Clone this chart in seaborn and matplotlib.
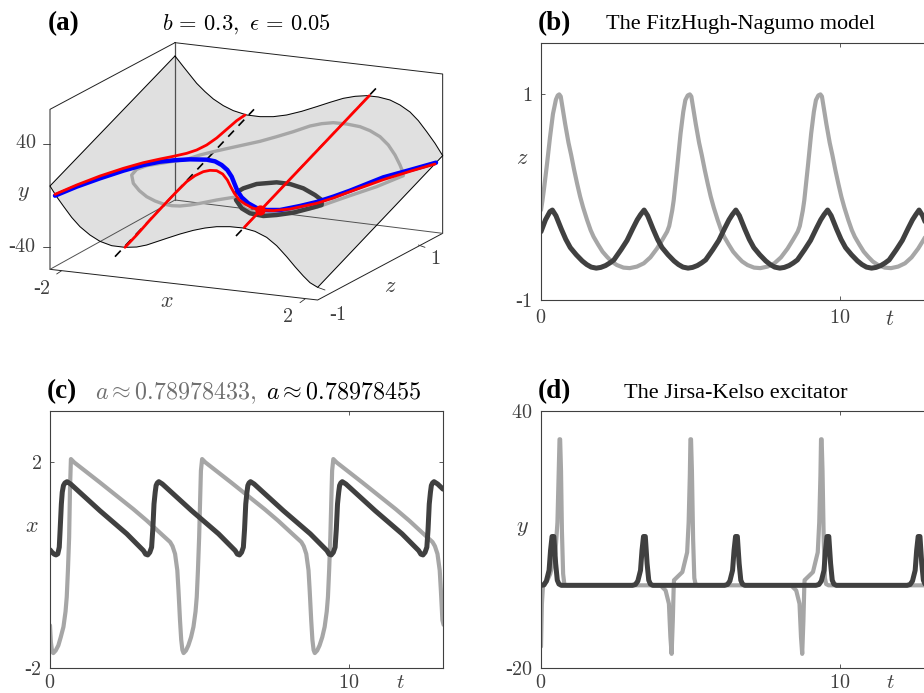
import matplotlib
matplotlib.use("Agg")
import matplotlib.pyplot as plt
import seaborn as sns

LIGHT = "#a6a6a6"
DARK = "#404040"
TICK = "#404040"

# panel (b), FitzHugh-Nagumo z(t)
b_light_t = [0, .05, .1, .2, .3, .4, .5, .56, .61,
             .66, .71, .81, .92, 1.01, 1.11, 1.21, 1.31, 1.41, 1.54, 1.66, 1.76, 1.91, 2.06, 2.21, 2.36, 2.54, 2.76, 2.97, 3.21, 3.44, 3.66, 3.88, 4.06, 4.22, 4.29, 4.33, 4.39, 4.44, 4.56, 4.67, 4.76, 4.83, 4.91, 4.98,
             5.03, 5.08, 5.18, 5.29, 5.38, 5.48, 5.58, 5.68, 5.78, 5.91, 6.03, 6.13, 6.28, 6.43, 6.58, 6.73, 6.91, 7.13, 7.34, 7.58, 7.81, 8.03, 8.25, 8.43, 8.59, 8.66, 8.70, 8.76, 8.81, 8.93, 9.04, 9.13, 9.20, 9.28, 9.35,
             9.40, 9.45, 9.55, 9.66, 9.75, 9.85, 9.95, 10.05, 10.15, 10.28, 10.40, 10.50, 10.65, 10.80, 10.95, 11.10, 11.28, 11.50, 11.71, 11.95, 12.18, 12.40, 12.62, 12.80, 12.96, 13.03, 13.07, 13.13, 13.18]
b_light_z = [-.125, -.03, .08, .32, .58, .81, .95, .99, 1.0,
             .98, .89, .71, .53, .41, .264, .13, .005, -.10, -.22, -.32, -.385, -.46, -.53, -.58, -.625, -.66, -.685, -.69, -.675, -.643, -.585, -.5, -.415, -.335, -.28, -.22, -.13, -.03, .3, .62, .83, .945, .99, 1.0,
             .98, .89, .71, .53, .41, .264, .13, .005, -.10, -.22, -.32, -.385, -.46, -.53, -.58, -.625, -.66, -.685, -.69, -.675, -.643, -.585, -.5, -.415, -.335, -.28, -.22, -.13, -.03, .3, .62, .83, .945, .99, 1.0,
             .98, .89, .71, .53, .41, .264, .13, .005, -.10, -.22, -.32, -.385, -.46, -.53, -.58, -.625, -.66, -.685, -.69, -.675, -.643, -.585, -.5, -.415, -.335, -.28, -.22, -.13, -.03]
b_dark_t = [0, .15, .3, .38,
            .50, .68, .83, .98, 1.18, 1.38, 1.53, 1.68, 1.85, 2.00, 2.16, 2.30, 2.44, 2.68, 2.88, 3.08, 3.22, 3.33, 3.45,
            3.57, 3.75, 3.90, 4.05, 4.25, 4.45, 4.60, 4.75, 4.92, 5.07, 5.23, 5.37, 5.51, 5.75, 5.95, 6.15, 6.29, 6.40, 6.52,
            6.64, 6.82, 6.97, 7.12, 7.32, 7.52, 7.67, 7.82, 7.99, 8.14, 8.30, 8.44, 8.58, 8.82, 9.02, 9.22, 9.36, 9.47, 9.59,
            9.71, 9.89, 10.04, 10.19, 10.39, 10.59, 10.74, 10.89, 11.06, 11.21, 11.37, 11.51, 11.65, 11.89, 12.09, 12.29, 12.43, 12.54, 12.65,
            12.77, 12.95, 13.10, 13.25]
b_dark_z = [-.335, -.22, -.14, -.125,
            -.18, -.31, -.41, -.49, -.56, -.62, -.655, -.68, -.69, -.683, -.665, -.64, -.61, -.51, -.42, -.30, -.22, -.17, -.125,
            -.18, -.31, -.41, -.49, -.56, -.62, -.655, -.68, -.69, -.683, -.665, -.64, -.61, -.51, -.42, -.30, -.22, -.17, -.125,
            -.18, -.31, -.41, -.49, -.56, -.62, -.655, -.68, -.69, -.683, -.665, -.64, -.61, -.51, -.42, -.30, -.22, -.17, -.125,
            -.18, -.31, -.41, -.49, -.56, -.62, -.655, -.68, -.69, -.683, -.665, -.64, -.61, -.51, -.42, -.30, -.22, -.17, -.125,
            -.18, -.31, -.41, -.49]

# panel (c), x(t)
c_light_t = [0, .03, .07, .11, .19, .28, .36, .45, .52, .56, .60, .64, .67, .70,
             .81, 1.67, 2.79, 3.24, 3.70, 4.02, 4.10, 4.185, 4.22, 4.26, 4.30, 4.35, 4.39, 4.43, 4.47, 4.55, 4.63, 4.72, 4.80, 4.87, 4.91, 4.95, 4.99, 5.02, 5.05, 5.09,
             5.20, 6.06, 7.18, 7.63, 8.09, 8.41, 8.49, 8.575, 8.61, 8.65, 8.69, 8.74, 8.78, 8.82, 8.86, 8.94, 9.02, 9.11, 9.19, 9.26, 9.30, 9.34, 9.38, 9.41, 9.44, 9.48,
             9.59, 10.45, 11.57, 12.02, 12.48, 12.80, 12.88, 12.965, 13.0, 13.04, 13.08, 13.13, 13.17]
c_light_x = [-1.17, -1.5, -1.68, -1.71, -1.66, -1.56, -1.4, -1.2, -.9, -.62, -.1, .54, 1.5, 2.065,
             2.0, 1.61, 1.09, .867, .62, .45, .37, .22, .07, -.1, -.5, -1.07, -1.45, -1.65, -1.71, -1.66, -1.56, -1.4, -1.2, -.9, -.62, -.1, .54, 1.2, 1.84, 2.065,
             2.0, 1.61, 1.09, .867, .62, .45, .37, .22, .07, -.1, -.5, -1.07, -1.45, -1.65, -1.71, -1.66, -1.56, -1.4, -1.2, -.9, -.62, -.1, .54, 1.2, 1.84, 2.065,
             2.0, 1.61, 1.09, .867, .62, .45, .37, .22, .07, -.1, -.5, -1.07, -1.16]
c_dark_t = [0, .07, .14, .2, .26, .31, .34, .38, .41, .45, .5, .57,
            .69, 1.67, 2.57, 3.125, 3.20, 3.27, 3.34, 3.40, 3.44, 3.48, 3.52, 3.55, 3.59, 3.64,
            3.76, 4.74, 5.64, 6.195, 6.27, 6.34, 6.41, 6.47, 6.51, 6.55, 6.59, 6.62, 6.66, 6.71,
            6.83, 7.81, 8.71, 9.265, 9.34, 9.41, 9.48, 9.54, 9.58, 9.62, 9.66, 9.69, 9.73, 9.78,
            9.90, 10.88, 11.78, 12.335, 12.41, 12.48, 12.55, 12.61, 12.65, 12.69, 12.73, 12.76, 12.80, 12.85,
            12.97, 13.15]
c_dark_x = [.3, .25, .215, .2, .22, .35, .7, 1.19, 1.42, 1.55, 1.6, 1.625,
            1.58, 1.06, .61, .285, .215, .2, .25, .35, .7, 1.19, 1.42, 1.55, 1.6, 1.625,
            1.58, 1.06, .61, .285, .215, .2, .25, .35, .7, 1.19, 1.42, 1.55, 1.6, 1.625,
            1.58, 1.06, .61, .285, .215, .2, .25, .35, .7, 1.19, 1.42, 1.55, 1.6, 1.625,
            1.58, 1.06, .61, .285, .215, .2, .25, .35, .7, 1.19, 1.42, 1.55, 1.6, 1.625,
            1.58, 1.48]

# panel (d), Jirsa-Kelso y(t)
d_light_t = [0, .03, .07, .2, .31, .48, .55, .59, .62, .64, .67, .7, .74, .78, .85,
             4.0, 4.17, 4.28, 4.33, 4.37, 4.41, 4.44, 4.45, 4.73, 4.89, 4.94, 4.98, 5.0, 5.02, 5.05, 5.09, 5.13, 5.17, 5.25,
             8.37, 8.54, 8.65, 8.70, 8.74, 8.78, 8.81, 8.82, 9.10, 9.26, 9.31, 9.35, 9.37, 9.39, 9.42, 9.46, 9.50, 9.54, 9.62, 13.19]
d_light_y = [-15, -5, -.5, .3, 2, 6.7, 14, 25, 33.4, 33.4, 26, 12, 2, -.4, -.7,
             -.7, -1.9, -5, -12.8, -16.7, -9, -1, .5, 2.4, 7, 14, 25, 33.4, 33.4, 26, 10, 1, -.4, -.7,
             -.7, -1.9, -5, -12.8, -16.7, -9, -1, .5, 2.4, 7, 14, 25, 33.4, 33.4, 26, 10, 1, -.4, -.7, -.7]
d_dark_t = [0, .1, .18, .27, .32, .37, .43, .49, .545, .6, .68,
            3.06, 3.16, 3.24, 3.33, 3.38, 3.43, 3.49, 3.55, 3.605, 3.66, 3.74,
            6.14, 6.24, 6.32, 6.41, 6.46, 6.51, 6.57, 6.63, 6.685, 6.74, 6.82,
            9.20, 9.30, 9.38, 9.47, 9.52, 9.57, 9.63, 9.69, 9.745, 9.80, 9.88,
            12.25, 12.35, 12.43, 12.52, 12.57, 12.62, 12.68, 12.74, 12.795, 12.85, 12.93, 13.19]
d_dark_y = [-.7, -.6, .3, 2.8, 7.5, 10.7, 10.7, 4.4, .5, -.4, -.7,
            -.7, -.5, .3, 2.8, 7.5, 10.7, 10.7, 4.4, .5, -.4, -.7,
            -.7, -.5, .3, 2.8, 7.5, 10.7, 10.7, 4.4, .5, -.4, -.7,
            -.7, -.5, .3, 2.8, 7.5, 10.7, 10.7, 4.4, .5, -.4, -.7,
            -.7, -.5, .3, 2.8, 7.5, 10.7, 10.7, 4.4, .5, -.4, -.7, -.7]

surf_u = [525, 150, 170, 190, 215, 240, 270, 300, 335, 375, 410, 440, 470, 500, 540, 580, 615, 650, 690, 730, 765, 800, 830, 860, 885, 910, 930, 953,
          1328, 1305, 1280, 1255, 1230, 1200, 1170, 1135, 1100, 1065, 1030, 990, 950, 905, 860, 820, 780, 740, 700, 670, 640, 615, 590, 570, 550, 525]
surf_v = [168, 558, 590, 618, 652, 680, 705, 724, 737, 742, 741, 735, 725, 715, 702, 691, 684, 680, 680, 684, 694, 712, 737, 770, 800, 828, 848, 862,
          467, 430, 395, 362, 336, 315, 300, 291, 287, 289, 295, 307, 320, 334, 345, 350, 350, 345, 332, 317, 297, 275, 250, 225, 200, 168]
box_front_u = [525, 150, 150, 953, 1328, 1328, 525, 525]
box_front_v = [128, 328, 808, 900, 700, 222, 128, 128]
box_back_u = [150, 525, 1328]
box_back_v = [808, 600, 700]
box_pole_u = [525, 525]
box_pole_v = [128, 600]
dash1_u = [345, 762]
dash1_v = [770, 328]
dash2_u = [708, 1128]
dash2_v = [708, 265]
red_mid_u = [733, 1108]
red_mid_v = [682, 287]
red_low_u = [375, 410, 450, 490, 525, 560, 585, 610, 630, 650, 668, 682, 692, 703, 718, 735, 755, 780, 820, 870, 950, 1000, 1050, 1100, 1150, 1230, 1305]
red_low_v = [742, 705, 660, 617, 580, 545, 527, 515, 511, 512, 522, 540, 560, 580, 600, 612, 623, 630, 632, 627, 610, 594, 575, 557, 539, 514, 492]
red_up_u = [165, 230, 300, 370, 430, 480, 520, 560, 590, 620, 650, 680, 710, 735]
red_up_v = [583, 555, 528, 505, 488, 477, 469, 460, 450, 435, 414, 388, 362, 345]
blue_u = [165, 230, 300, 370, 430, 480, 520, 570, 620, 645, 665, 682, 695, 703, 712, 725, 745, 770, 800, 840, 900, 950, 1000, 1050, 1100, 1150, 1230, 1308]
blue_v = [587, 560, 535, 512, 495, 485, 481, 478, 479, 484, 495, 510, 530, 550, 572, 592, 610, 624, 630, 630, 618, 606, 590, 572, 552, 532, 510, 488]
cyc_dark_u = [708, 730, 770, 830, 870, 910, 945, 965, 965, 930, 880, 830, 790, 750, 725, 708]
cyc_dark_v = [578, 565, 552, 547, 552, 565, 585, 600, 615, 625, 638, 645, 648, 640, 625, 600]
cyc_light_u = [1210, 1200, 1185, 1165, 1140, 1110, 1080, 1040, 1000, 965, 930, 880, 830, 780, 730, 680, 640, 600, 560, 500, 440, 410, 395, 400, 418, 440, 465, 490, 515, 540, 570, 600, 650, 700, 715, 735, 760, 800, 870, 950, 1050, 1130, 1210]
cyc_light_v = [520, 495, 465, 435, 410, 392, 380, 372, 368, 371, 378, 395, 410, 424, 435, 446, 455, 465, 478, 487, 497, 508, 525, 550, 572, 590, 603, 612, 617, 618, 615, 610, 600, 592, 605, 625, 637, 642, 635, 622, 587, 560, 527]
eq_u = [780]
eq_v = [630]

sns.set_theme(style="white")
plt.rcParams["font.family"] = ["Liberation Serif", "DejaVu Serif"]
plt.rcParams["mathtext.fontset"] = "cm"

fig = plt.figure(figsize=(9.24, 6.93), dpi=100)


def px_axes(left, top, right, bottom):
    return fig.add_axes([left / 924, 1 - bottom / 693, (right - left) / 924, (bottom - top) / 693])


def px_text(x, y, s, size=14.5, color=TICK, weight="normal", ha="center"):
    fig.text(x / 924, 1 - y / 693, s, fontsize=size, color=color, fontweight=weight, ha=ha, va="center")


def trace(ax, t, y, color, lw):
    sns.lineplot(x=t, y=y, ax=ax, color=color, linewidth=lw, sort=False, estimator=None, solid_joinstyle="round")


def time_panel(left, top, ylim, yticks, yticklabels, xpad):
    ax = px_axes(left, top, left + 393, top + 257)
    ax.set_xlim(0, 13.15)
    ax.set_ylim(*ylim)
    ax.set_xticks([0, 10])
    ax.set_xticklabels(["$0$", "$10$"])
    ax.set_yticks(yticks)
    ax.set_yticklabels(yticklabels)
    ax.tick_params(direction="in", length=3, width=0.6, color=TICK, labelcolor=TICK,
                   labelsize=14.5, top=True, right=True, bottom=True, left=True, pad=6)
    ax.tick_params(axis="x", pad=xpad)
    for s in ax.spines.values():
        s.set_color(TICK)
        s.set_linewidth(0.8)
    return ax


ax_b = time_panel(541, 43, (-1, 1.5), [-1, 1], ["-$1$", "$1$"], 6.5)
trace(ax_b, b_light_t, b_light_z, LIGHT, 3.0)
trace(ax_b, b_dark_t, b_dark_z, DARK, 3.6)

ax_c = time_panel(50, 411, (-2, 3), [-2, 2], ["-$2$", "$2$"], 4.5)
trace(ax_c, c_light_t, c_light_x, LIGHT, 3.0)
trace(ax_c, c_dark_t, c_dark_x, DARK, 3.6)

ax_d = time_panel(541, 411, (-20, 40), [-20, 40], ["-$20$", "$40$"], 4.5)
trace(ax_d, d_light_t, d_light_y, LIGHT, 3.0)
trace(ax_d, d_dark_t, d_dark_y, DARK, 3.6)

# panel (a)
ax_a = px_axes(0, 0, 460, 335)
ax_a.set_xlim(0, 1380)
ax_a.set_ylim(1005, 0)
ax_a.axis("off")
ax_a.patch.set_alpha(0)
ax_a.fill(surf_u, surf_v, color="#e0e0e0", zorder=1)
ax_a.plot(box_front_u, box_front_v, color="#202020", lw=0.7, zorder=1.5)
ax_a.plot(box_back_u, box_back_v, color="#505050", lw=0.7, zorder=1.5)
ax_a.plot(box_pole_u, box_pole_v, color="#505050", lw=0.9, zorder=1.5)
ax_a.plot(surf_u, surf_v, color="black", lw=0.7, zorder=1.6)
ax_a.plot(dash1_u, dash1_v, color="black", lw=1.2, ls=(0, (5, 4)), zorder=2)
ax_a.plot(dash2_u, dash2_v, color="black", lw=1.2, ls=(0, (5, 4)), zorder=2)
trace(ax_a, cyc_light_u, cyc_light_v, LIGHT, 2.4)
trace(ax_a, cyc_dark_u, cyc_dark_v, DARK, 3.2)
trace(ax_a, blue_u, blue_v, "#0000ff", 3.2)
trace(ax_a, red_mid_u, red_mid_v, "#ff0000", 2.0)
trace(ax_a, red_low_u, red_low_v, "#ff0000", 2.0)
trace(ax_a, red_up_u, red_up_v, "#ff0000", 2.0)
ax_a.scatter(eq_u, eq_v, s=55, color="#ff0000", zorder=5, linewidths=0)
# tick stubs on the box
for tu, tv in [([130, 150], [432, 432]), ([130, 150], [740, 740]), ([170, 185], [822, 812]),
               ([900, 915], [908, 897]), ([1255, 1275], [735, 742]), ([953, 975], [862, 870])]:
    ax_a.plot(tu, tv, color="#303030", lw=0.6, zorder=1.5)

# labels
px_text(26, 144, "$40$")
px_text(22, 247, "-$40$")
px_text(23, 193, "$y$", 16)
px_text(167, 302, "$x$", 16)
px_text(42, 289, "-$2$")
px_text(288, 317, "$2$")
px_text(338, 315, "-$1$")
px_text(435, 260, "$1$")
px_text(390, 287, "$z$", 16)
px_text(63.5, 24, "(a)", 19.5, "black", "bold")
px_text(246, 24, r"$b\,=\,0.3,\ \epsilon\,=\,0.05$", 16.2, "black")
px_text(554, 24, "(b)", 19.5, "black", "bold")
px_text(741, 25, "The FitzHugh-Nagumo model", 16, "black")
px_text(62, 392, "(c)", 19.5, "black", "bold")
px_text(176, 393, r"$a\approx 0.78978433,$", 17.3, "#707070")
px_text(344, 393, r"$a\approx 0.78978455$", 17.3, "black")
px_text(554, 392, "(d)", 19.5, "black", "bold")
px_text(736, 393, "The Jirsa-Kelso excitator", 16, "black")
px_text(522, 160, "$z$", 16)
px_text(890, 320, "$t$", 16)
px_text(32, 527, "$x$", 16)
px_text(400, 684, "$t$", 15)
px_text(522, 529, "$y$", 16)
px_text(890, 684, "$t$", 15)

fig.savefig("out.png", dpi=100, facecolor="white")
